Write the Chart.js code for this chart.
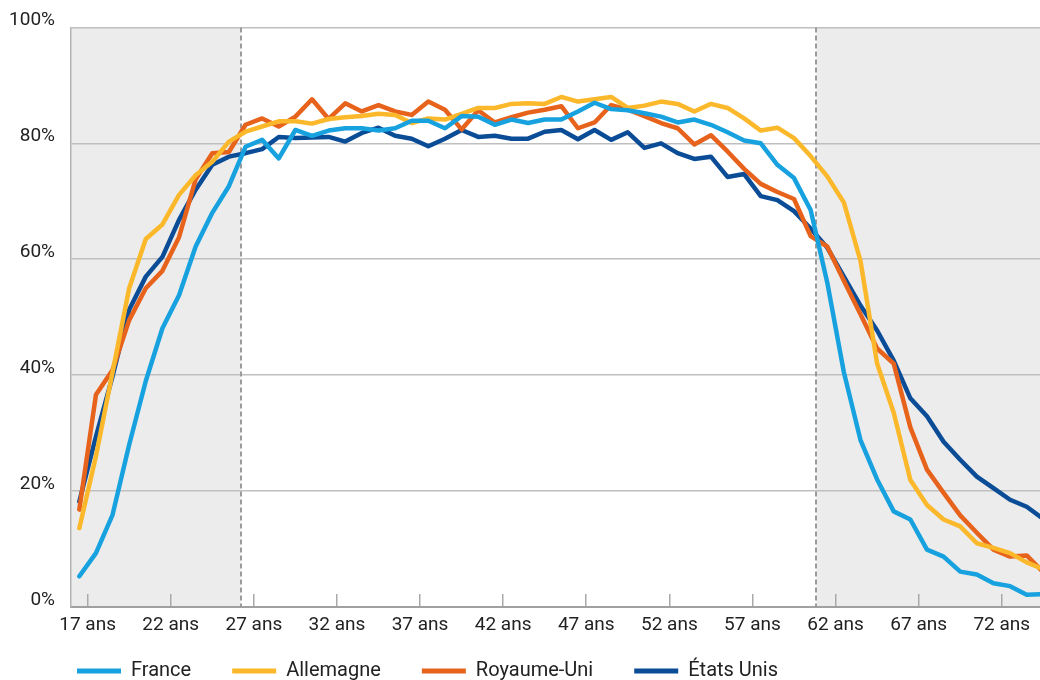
<!DOCTYPE html>
<html lang="fr">
<head>
<meta charset="utf-8">
<title>Taux d'emploi par âge</title>
<script src="https://cdn.jsdelivr.net/npm/chart.js@4/dist/chart.umd.min.js"></script>
<style>
    html, body { margin: 0; padding: 0; background: #fff; overflow: hidden; }
    #wrap { width: 1040px; height: 680px; }
</style>
</head>
<body>
<div id="wrap"><canvas id="chart" width="1040" height="680"></canvas></div>
<script>
// Ages (one value per year of age)
const ages = [16, 17, 18, 19, 20, 21, 22, 23, 24, 25, 26, 27, 28, 29, 30, 31, 32, 33, 34, 35,
    36, 37, 38, 39, 40, 41, 42, 43, 44, 45, 46, 47, 48, 49, 50, 51, 52, 53, 54, 55,
    56, 57, 58, 59, 60, 61, 62, 63, 64, 65, 66, 67, 68, 69, 70, 71, 72, 73, 74];
const tickAges = [17, 22, 27, 32, 37, 42, 47, 52, 57, 62, 67, 72];

const france = [5.3, 9.3, 15.9, 28.0, 39.0, 48.1, 53.8, 62.2, 68.0, 72.6,
    79.4, 80.6, 77.4, 82.3, 81.3, 82.2, 82.6, 82.6, 82.2, 82.6,
    83.9, 83.9, 82.6, 84.7, 84.6, 83.2, 84.1, 83.5, 84.1, 84.1,
    85.5, 87.0, 85.9, 85.7, 85.2, 84.6, 83.6, 84.1, 83.2, 81.9,
    80.5, 80.0, 76.3, 74.0, 68.5, 56.0, 40.5, 28.8, 22.0, 16.5,
    15.1, 9.9, 8.7, 6.1, 5.6, 4.1, 3.6, 2.1, 2.2];
const allemagne = [13.6, 26.0, 40.5, 55.0, 63.5, 66.0, 71.1, 74.5, 76.8, 80.3,
    82.0, 82.9, 83.8, 83.8, 83.4, 84.2, 84.5, 84.7, 85.1, 84.9,
    83.5, 84.3, 84.1, 85.1, 86.1, 86.1, 86.8, 86.9, 86.8, 88.0,
    87.2, 87.6, 88.0, 86.1, 86.5, 87.2, 86.8, 85.5, 86.8, 86.1,
    84.3, 82.2, 82.7, 80.9, 77.8, 74.3, 69.8, 59.7, 42.0, 33.5,
    21.9, 17.6, 15.1, 13.9, 11.0, 10.2, 9.3, 7.7, 6.5];
const royaumeUni = [16.8, 36.6, 40.9, 49.5, 55.0, 58.0, 63.8, 73.8, 78.3, 78.5,
    83.2, 84.3, 82.9, 84.6, 87.6, 84.2, 86.9, 85.5, 86.6, 85.5,
    84.9, 87.2, 85.8, 82.4, 85.7, 83.6, 84.5, 85.3, 85.8, 86.4,
    82.6, 83.6, 86.6, 85.8, 84.7, 83.5, 82.6, 79.8, 81.4, 78.6,
    75.6, 73.0, 71.6, 70.4, 64.0, 62.2, 56.3, 50.5, 44.6, 42.0,
    31.0, 23.7, 19.7, 15.8, 12.8, 9.9, 8.7, 8.9, 6.0];
const etatsUnis = [18.2, 29.4, 39.8, 51.3, 57.0, 60.4, 66.8, 72.0, 76.3, 77.7,
    78.3, 79.0, 81.1, 80.9, 81.0, 81.1, 80.3, 81.8, 82.7, 81.3,
    80.8, 79.5, 80.8, 82.3, 81.1, 81.3, 80.8, 80.8, 82.0, 82.3,
    80.7, 82.3, 80.6, 81.9, 79.2, 80.0, 78.3, 77.3, 77.7, 74.2,
    74.7, 70.9, 70.2, 68.3, 65.3, 62.0, 57.0, 52.0, 47.7, 42.5,
    36.0, 32.9, 28.5, 25.4, 22.5, 20.5, 18.5, 17.3, 15.2];

// limits of the grey zones (in years of age)
const shadeLimits = [26.2, 60.85];

// a value covers a whole year of age, so it is drawn in the middle of that year
const toPoints = values => values.map((v, i) => ({ x: ages[i] + 0.5, y: v }));

const ageBands = {
    id: 'ageBands',
    beforeDraw(chart) {
        const { ctx, chartArea: area, scales: { x } } = chart;
        const from = x.getPixelForValue(shadeLimits[0]);
        const to = x.getPixelForValue(shadeLimits[1]);
        ctx.save();
        ctx.fillStyle = '#ececec';
        ctx.fillRect(area.left, area.top, from - area.left, area.bottom - area.top);
        ctx.fillRect(to, area.top, area.right - to, area.bottom - area.top);
        ctx.restore();
    },
    beforeDatasetsDraw(chart) {
        const { ctx, chartArea: area, scales: { x } } = chart;
        ctx.save();
        ctx.strokeStyle = '#9b9b9b';
        ctx.lineWidth = 2;
        ctx.setLineDash([5, 3]);
        shadeLimits.forEach(age => {
            const px = Math.round(x.getPixelForValue(age));
            ctx.beginPath();
            ctx.moveTo(px, area.top);
            ctx.lineTo(px, area.bottom);
            ctx.stroke();
        });
        ctx.restore();
    }
};

// the legend row starts under the plot, not at the canvas edge
const legendPlacement = {
    id: 'legendPlacement',
    afterLayout(chart) {
        const legend = chart.legend;
        const pad = legend.options.labels.padding;
        legend.left = 77 - pad;
        legend.top = 661 - pad;
    }
};

Chart.defaults.font.family = 'Roboto, "Liberation Sans", sans-serif';
Chart.defaults.color = '#222';

new Chart(document.getElementById('chart'), {
    type: 'line',
    data: {
        datasets: [
            { label: 'France', data: toPoints(france), borderColor: '#17a2df', backgroundColor: '#17a2df' },
            { label: 'Allemagne', data: toPoints(allemagne), borderColor: '#fcb82b', backgroundColor: '#fcb82b' },
            { label: 'Royaume-Uni', data: toPoints(royaumeUni), borderColor: '#e7621b', backgroundColor: '#e7621b' },
            { label: 'États Unis', data: toPoints(etatsUnis), borderColor: '#0b4c97', backgroundColor: '#0b4c97' }
        ]
    },
    options: {
        responsive: false,
        animation: false,
        devicePixelRatio: 1,
        elements: {
            line: { borderWidth: 4.5, tension: 0, borderJoinStyle: 'round', borderCapStyle: 'round' },
            point: { radius: 0, hoverRadius: 0, borderWidth: 5 }
        },
        layout: { padding: { left: 8, top: 27, right: 0, bottom: 0 } },
        plugins: {
            legend: {
                position: 'bottom',
                align: 'start',
                maxHeight: 40,
                labels: {
                    usePointStyle: true,
                    pointStyle: 'line',
                    pointStyleWidth: 44,
                    padding: 41,
                    font: { size: 20 }
                }
            },
            tooltip: { enabled: false }
        },
        scales: {
            x: {
                type: 'linear',
                min: 16,
                max: 74.3,
                afterBuildTicks: scale => { scale.ticks = tickAges.map(v => ({ value: v })); },
                afterFit: scale => {
                    scale.height = 33;
                    scale.paddingLeft = 0;
                    scale.paddingRight = 0;
                },
                ticks: {
                    padding: 20,
                    maxRotation: 0,
                    autoSkip: false,
                    font: { size: 19 },
                    callback: v => v + ' ans'
                },
                grid: { drawOnChartArea: false, tickLength: -13, color: '#a9a9a9', lineWidth: 1.5 },
                border: { color: '#a0a0a0', width: 2 }
            },
            y: {
                min: 0,
                max: 100,
                afterFit: scale => { scale.width = 63; },
                ticks: {
                    stepSize: 20,
                    padding: 16,
                    labelOffset: -7,
                    font: { size: 19 },
                    callback: v => v + '%'
                },
                grid: { color: '#bfbfbf', lineWidth: 1.5, drawTicks: false },
                border: { color: '#b3b3b3', width: 1.5 }
            }
        }
    },
    plugins: [ageBands, legendPlacement]
});
</script>
</body>
</html>
